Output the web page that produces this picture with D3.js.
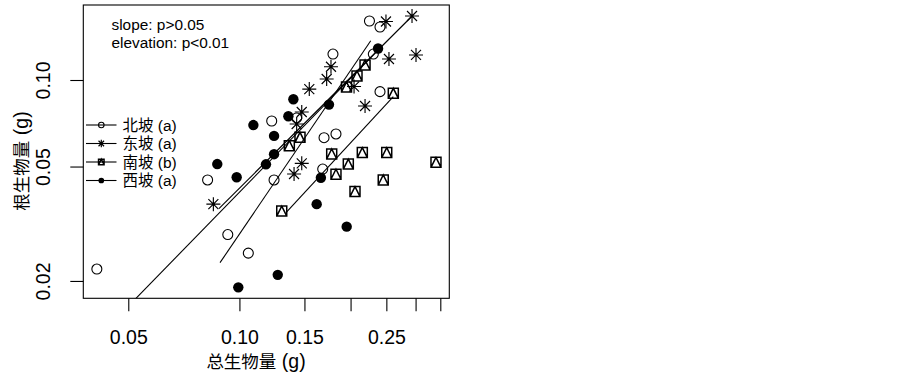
<!DOCTYPE html>
<html>
<head>
<meta charset="utf-8">
<script src="https://cdn.jsdelivr.net/npm/d3@7"></script>
<style>
  html, body { margin: 0; padding: 0; background: #fff; }
  svg { display: block; }
  text { font-family: "Liberation Sans", Arial, "Noto Sans CJK SC", sans-serif; fill: #000; }
  .cjk { font-family: "Noto Sans CJK SC", sans-serif; }
</style>
</head>
<body>
<svg id="chart" width="903" height="378"></svg>
<script>
// ---- data ----
const groups = ["北坡", "东坡", "南坡", "西坡"];
const groupLetters = ["(a)", "(a)", "(b)", "(a)"];
const groupSymbols = ["circle", "star", "boxtri", "dot"];

const northX = [0.0411, 0.0820, 0.0930, 0.1057, 0.1223, 0.1241, 0.1429, 0.1681, 0.1695, 0.1826, 0.1792, 0.2250, 0.2403, 0.2305, 0.2403];
const northY = [0.0220, 0.0449, 0.0290, 0.0250, 0.0720, 0.0449, 0.0738, 0.0490, 0.0630, 0.0649, 0.1231, 0.1604, 0.1529, 0.1231, 0.0911];

const eastX = [0.0850, 0.1546, 0.1475, 0.1429, 0.1475, 0.1406, 0.1723, 0.1770, 0.2044, 0.2189, 0.2494, 0.2541, 0.2934, 0.3008];
const eastY = [0.0370, 0.0930, 0.0774, 0.0703, 0.0513, 0.0471, 0.1008, 0.1112, 0.0949, 0.0812, 0.1598, 0.1183, 0.1670, 0.1222];

const southX = [0.1302, 0.1365, 0.1459, 0.1778, 0.1826, 0.1972, 0.2056, 0.2152, 0.2452, 0.2506, 0.3407, 0.2611, 0.1950, 0.2082, 0.2189];
const southY = [0.0350, 0.0591, 0.0632, 0.0553, 0.0470, 0.0510, 0.0409, 0.0559, 0.0449, 0.0559, 0.0517, 0.0899, 0.0946, 0.1033, 0.1128];

const westX = [0.0871, 0.0983, 0.0993, 0.1091, 0.1180, 0.1241, 0.1241, 0.1270, 0.1357, 0.1400, 0.1619, 0.1662, 0.1748, 0.1952, 0.2374];
const westY = [0.0510, 0.0459, 0.0190, 0.0697, 0.0509, 0.0639, 0.0552, 0.0210, 0.0748, 0.0857, 0.0370, 0.0457, 0.0821, 0.0309, 0.1287];

// fitted line end points [x, y] per group (data units)
const northLine = [[0.0500, 0.01633], [0.2418, 0.1302]];
const eastLine  = [[0.0880, 0.0357], [0.2928, 0.1663]];
const southLine = [[0.1343, 0.0348], [0.2611, 0.0875]];
const westLine  = [[0.0886, 0.02315], [0.2268, 0.1370]];

const xDomain = [0.03777, 0.3702];
const yDomain = [0.017404, 0.18234];
const xTicks = [0.05, 0.10, 0.15, 0.20, 0.25, 0.30, 0.35];
const xTickLabels = ["0.05", "0.10", "0.15", "", "0.25", "", ""];
const yTicks = [0.02, 0.05, 0.10];
const yTickLabels = ["0.02", "0.05", "0.10"];
const annotations = ["slope: p>0.05", "elevation: p<0.01"];
const xTitleCJK = "总生物量", xTitleUnit = " (g)";
const yTitleCJK = "根生物量", yTitleUnit = " (g)";

// ---- layout ----
const L = 83.3, R = 449.3, T = 5, B = 298.3;
const svg = d3.select("#chart");
const x = d3.scaleLog().domain(xDomain).range([L, R]);
const y = d3.scaleLog().domain(yDomain).range([B, T]);

const seriesX = [northX, eastX, southX, westX];
const seriesY = [northY, eastY, southY, westY];
const seriesLines = [northLine, eastLine, southLine, westLine];

function symbolPath(type, cx, cy, s) {
  const r = 5 * s, a = 7 * s;
  switch (type) {
    case "star":
      return `M${cx - a},${cy}H${cx + a}M${cx},${cy - a}V${cy + a}` +
             `M${cx - r},${cy - r}L${cx + r},${cy + r}M${cx - r},${cy + r}L${cx + r},${cy - r}`;
    case "boxtri":
      return `M${cx - r},${cy - r}H${cx + r}V${cy + r}H${cx - r}Z` +
             `M${cx - r},${cy + r}L${cx},${cy - r}L${cx + r},${cy + r}`;
  }
  return "";
}

function drawSymbol(g, type, cx, cy, s) {
  if (type === "circle") {
    g.append("circle").attr("cx", cx).attr("cy", cy).attr("r", 5 * s)
      .attr("fill", "none").attr("stroke", "#000").attr("stroke-width", 1.1);
  } else if (type === "dot") {
    g.append("circle").attr("cx", cx).attr("cy", cy).attr("r", 5.2 * s)
      .attr("fill", "#000");
  } else {
    g.append("path").attr("d", symbolPath(type, cx, cy, s))
      .attr("fill", "none").attr("stroke", "#000")
      .attr("stroke-width", type === "boxtri" ? 1.5 : 1.15);
  }
}

// clip
svg.append("defs").append("clipPath").attr("id", "plotclip")
  .append("rect").attr("x", L).attr("y", T).attr("width", R - L).attr("height", B - T);

// points
const pts = svg.append("g").attr("clip-path", "url(#plotclip)");
seriesX.forEach((xs, gi) => {
  xs.forEach((xv, i) => drawSymbol(pts, groupSymbols[gi], x(xv), y(seriesY[gi][i]), 1));
});

// fitted lines
const line = d3.line().x(d => x(d[0])).y(d => y(d[1]));
const lg = svg.append("g").attr("clip-path", "url(#plotclip)");
seriesLines.forEach(seg => {
  lg.append("path").attr("d", line(seg)).attr("fill", "none")
    .attr("stroke", "#000").attr("stroke-width", 1.1);
});

// box
svg.append("rect").attr("x", L).attr("y", T).attr("width", R - L).attr("height", B - T)
  .attr("fill", "none").attr("stroke", "#000").attr("stroke-width", 1.1);

// x axis
const xAxis = d3.axisBottom(x).tickValues(xTicks)
  .tickFormat((d, i) => xTickLabels[i]).tickSize(13).tickSizeOuter(0);
const gx = svg.append("g").attr("transform", `translate(0,${B})`).call(xAxis);
gx.select(".domain").remove();
gx.selectAll(".tick line").attr("stroke", "#000").attr("stroke-width", 1.1);
gx.selectAll(".tick text").attr("y", 45.5).attr("dy", 0)
  .style("font-size", "19.5px").style("font-family", '"Liberation Sans", Arial, sans-serif');

// y axis
const yAxis = d3.axisLeft(y).tickValues(yTicks)
  .tickFormat((d, i) => yTickLabels[i]).tickSize(13).tickSizeOuter(0);
const gy = svg.append("g").attr("transform", `translate(${L},0)`).call(yAxis);
gy.select(".domain").remove();
gy.selectAll(".tick line").attr("stroke", "#000").attr("stroke-width", 1.1);
gy.selectAll(".tick text").attr("x", 0).attr("y", -33.5).attr("dy", 0)
  .attr("transform", "rotate(-90)").attr("text-anchor", "middle")
  .style("font-size", "19.5px").style("font-family", '"Liberation Sans", Arial, sans-serif');

// axis titles
const xt = svg.append("text").attr("x", 256).attr("y", 368).attr("text-anchor", "middle");
xt.append("tspan").style("font-size", "17.5px").text(xTitleCJK);
xt.append("tspan").style("font-size", "19.5px").text(xTitleUnit);

const yt = svg.append("text").attr("transform", "translate(28,161) rotate(-90)").attr("text-anchor", "middle");
yt.append("tspan").style("font-size", "17.5px").text(yTitleCJK);
yt.append("tspan").style("font-size", "19.5px").text(yTitleUnit);

// annotations
annotations.forEach((t, i) => {
  svg.append("text").attr("x", 111.5).attr("y", 29.5 + i * 18.6)
    .style("font-size", "15.4px").text(t);
});

// legend
const legY = [125, 143.5, 162, 180.5];
const leg = svg.append("g");
groups.forEach((name, i) => {
  const cy = legY[i];
  leg.append("line").attr("x1", 86).attr("x2", 116.5).attr("y1", cy).attr("y2", cy)
    .attr("stroke", "#000").attr("stroke-width", 1.1);
  drawSymbol(leg, groupSymbols[i], 101.3, cy, 0.55);
  const t = leg.append("text").attr("x", 122.5).attr("y", cy + 5.5)
    .style("font-size", "15.5px");
  t.append("tspan").text(name);
  t.append("tspan").text(" " + groupLetters[i]);
});
</script>
</body>
</html>
